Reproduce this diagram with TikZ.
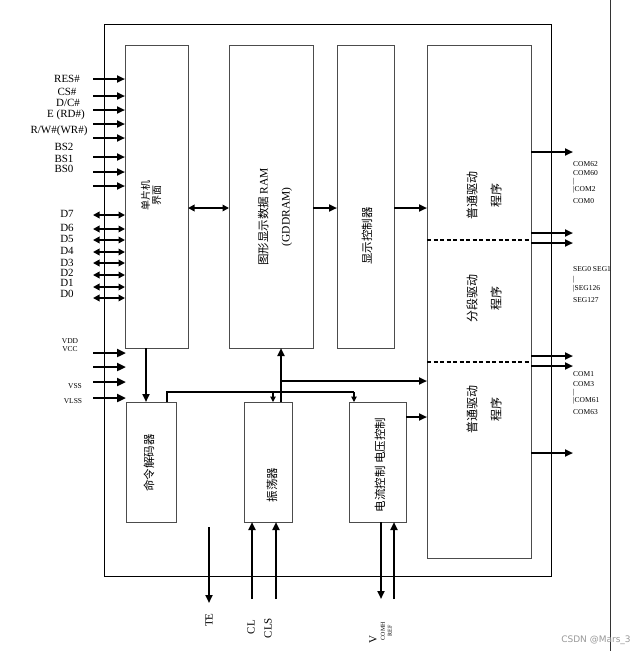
\documentclass[tikz,border=0pt]{standalone}
\usepackage{fontspec}
\setmainfont{Liberation Serif}
\newfontfamily\cjk{Noto Sans CJK SC}
\newfontfamily\wmfont{DejaVu Sans}
\usetikzlibrary{arrows.meta}

\tikzset{
  blk/.style={draw=black!70, line width=0.8pt, inner sep=0pt, outer sep=0pt},
  busarr/.style={line width=2.1pt, -{Triangle[length=8pt,width=7pt]}},
  bigarr/.style={line width=2.4pt, -{Triangle[length=9pt,width=8pt]}},
  biarr/.style={line width=2pt, {Triangle[length=6.5pt,width=6.5pt]}-{Triangle[length=6.5pt,width=6.5pt]}},
  sigarr/.style={line width=1.1pt, -{Triangle[length=5.5pt,width=5.5pt]}},
  pinlbl/.style={font=\fontsize{11}{11}\selectfont, inner sep=0pt},
  smalllbl/.style={font=\fontsize{7.5}{7.5}\selectfont, inner sep=0pt},
  zhlbl/.style={font=\cjk\fontsize{11.5}{22}\selectfont, rotate=90, align=center, inner sep=0pt},
}

\begin{document}
\begin{tikzpicture}[x=1pt,y=-1pt]
\fill[white] (0,0) rectangle (643,651);
\useasboundingbox (0,0) rectangle (643,651);
% frame of the chip
\draw[line width=0.9pt] (104,24) rectangle (551,576);
\draw[line width=0.8pt, black!80] (610,0) -- (610,651);

% blocks
\node[blk, minimum width=63pt, minimum height=303pt] (mcu) at (156.5,196.5) {};
\node[blk, minimum width=84pt, minimum height=303pt] (ram) at (271,196.5) {};
\node[blk, minimum width=57pt, minimum height=303pt] (ctrl) at (365.5,196.5) {};
\node[blk, minimum width=104pt, minimum height=513pt] (drv) at (479,301.5) {};
\node[blk, minimum width=50pt, minimum height=120pt] (dec) at (151,462) {};
\node[blk, minimum width=48pt, minimum height=120pt] (osc) at (268,462) {};
\node[blk, minimum width=57pt, minimum height=120pt] (pwr) at (377.5,462) {};
\draw[dashed, line width=1.2pt, dash pattern=on 4pt off 2.5pt] (drv.west |- 0,240) -- (drv.east |- 0,240);
\draw[dashed, line width=1.2pt, dash pattern=on 4pt off 2.5pt] (drv.west |- 0,362) -- (drv.east |- 0,362);

% block texts
\node[zhlbl, font=\cjk\fontsize{10}{11}\selectfont] (mcutxt) at (151,195) {单片机\\界面};
\node[zhlbl] (ramtxt) at (275,217) {图形显示数据 {\rmfamily RAM}\\{\rmfamily (GDDRAM)}};
\node[zhlbl] (ctrltxt) at (367,236) {显示控制器};
\node[zhlbl, font=\cjk\fontsize{12}{24}\selectfont] (drvtxta) at (484,195) {普通驱动\\程序};
\node[zhlbl, font=\cjk\fontsize{12}{24}\selectfont] (drvtxtb) at (484,298) {分段驱动\\程序};
\node[zhlbl, font=\cjk\fontsize{12}{24}\selectfont] (drvtxtc) at (484,409) {普通驱动\\程序};
\node[zhlbl] (dectxt) at (149,463) {命令解码器};
\node[zhlbl] (osctxt) at (272,485) {振荡器};
\node[zhlbl] (pwrtxt) at (380,465) {电流控制 电压控制};

% inputs on the left
\foreach \y [count=\i] in {79,96,110,124,138,157,172,186}
  \draw[busarr] (93,\y) coordinate (in\i) -- (in\i -| mcu.west);
\foreach \x/\y/\t [count=\i] in {67/78.5/{RES\#}, 67/92/{CS\#}, 68/103/{D/C\#}, 66/115/{E (RD\#)},
    59/131/{R/W\#(WR\#)}, 64/147/{BS2}, 64/159/{BS1}, 64/169/{BS0}}
  \node[pinlbl] (inlbl\i) at (\x,\y) {\t};
\foreach \y [count=\i] in {215,229,240,252,263,275,287,298}
  \draw[biarr] (93,\y) coordinate (d\i) -- (d\i -| mcu.west);
\foreach \y/\t [count=\i] in {214/D7, 228/D6, 239/D5, 251/D4, 263/D3, 273/D2, 283/D1, 293.5/D0}
  \node[pinlbl] (dlbl\i) at (67,\y) {\t};
\foreach \y [count=\i] in {353,367,382,398}
  \draw[bigarr] (93,\y) coordinate (p\i) -- (126,\y) coordinate (pe\i);
\node[smalllbl] (vdd) at (70,341) {VDD};
\node[smalllbl] (vcc) at (70,349) {VCC};
\node[smalllbl] (vss) at (75,386) {VSS};
\node[smalllbl] (vlss) at (73,401) {VLSS};

% data path
\coordinate (row) at (0,208);
\draw[biarr] (mcu.east |- row) -- (ram.west |- row);
\draw[busarr] (ram.east |- row) -- (ctrl.west |- row);
\draw[busarr] (ctrl.east |- row) -- (drv.west |- row);
\draw[busarr] (mcu.south -| 146,0) -- (dec.north -| 146,0);
\coordinate (cmdbus) at (0,392);
\draw[line width=1.1pt] (dec.north -| 167,0) |- (354,392) coordinate (cmdend);
\draw[sigarr] (cmdend) -- (pwr.north -| cmdend);
\draw[sigarr] (273,392) coordinate (cmdosc) -- (osc.north -| cmdosc);
\draw[busarr] (osc.north -| 281,0) -- (ram.south -| 281,0);
\draw[busarr] (281,381) coordinate (clkto) -- (drv.west |- clkto);
\draw[busarr] (pwr.east |- 0,417) -- (drv.west |- 0,417);

% outputs on the right
\foreach \y [count=\i] in {152,233,243,356,366,453}
  \draw[busarr] (drv.east |- 0,\y) -- (573,\y) coordinate (out\i);
\foreach \y/\t [count=\i] in {164/COM62, 173/COM60, 182/|, 190/|COM2, 201/COM0,
    269/SEG0 SEG1, 280/|, 289/|SEG126, 300/SEG127,
    374/COM1, 384/COM3, 393/|, 401/|COM61, 412/COM63}
  \node[smalllbl, anchor=west] (outlbl\i) at (573,\y) {\t};

% pins at the bottom
\draw[busarr] (209,527) coordinate (te0) -- (209,603) coordinate (te);
\draw[busarr] (252,599) coordinate (cl) -- (osc.south -| cl);
\draw[busarr] (276,599) coordinate (cls) -- (osc.south -| cls);
\draw[busarr] (pwr.south -| 381,0) -- (381,599) coordinate (vcomh);
\draw[busarr] (394,599) coordinate (vref) -- (pwr.south -| vref);
\node[pinlbl, rotate=90] (telbl) at (209,620) {TE};
\node[pinlbl, rotate=90] (cllbl) at (251,627) {CL};
\node[pinlbl, rotate=90] (clslbl) at (268,628) {CLS};
\node[pinlbl, rotate=90] (vlbl) at (373,640) {V};
\node[rotate=90, inner sep=0pt, font=\fontsize{6}{6}\selectfont] (comhlbl) at (383,631) {COMH};
\node[rotate=90, inner sep=0pt, font=\fontsize{6}{6}\selectfont] (reflbl) at (390,631) {REF};

\node[text=black!40, font=\wmfont\fontsize{9}{9}\selectfont, inner sep=0pt] (mark) at (596,640) {CSDN @Mars\_3};
\end{tikzpicture}
\end{document}
